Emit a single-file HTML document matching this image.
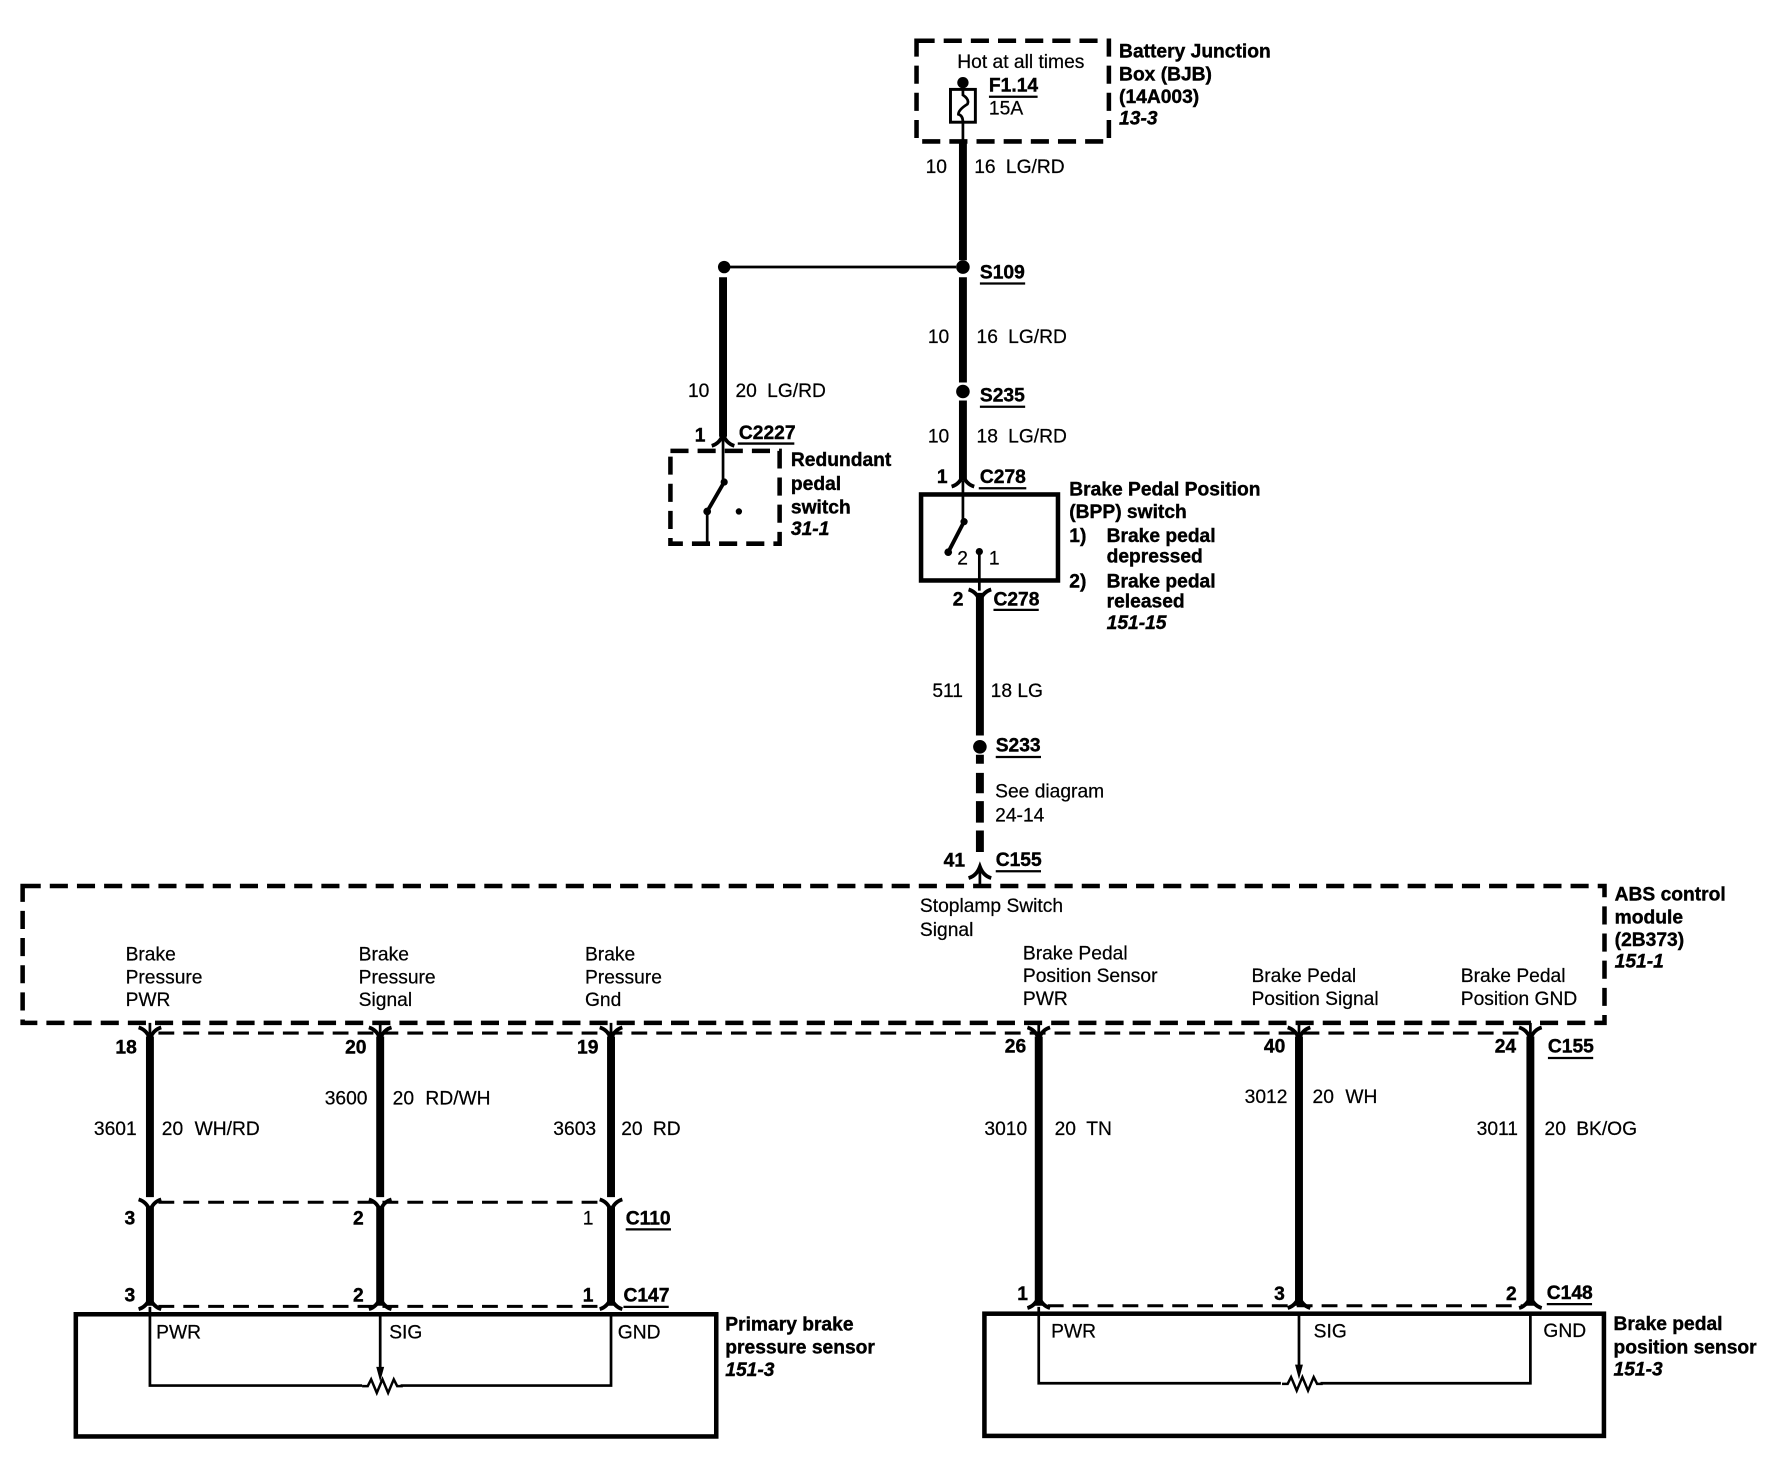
<!DOCTYPE html>
<html><head><meta charset="utf-8"><style>
html,body{margin:0;padding:0;background:#fff}
svg{display:block}
text{font-family:"Liberation Sans",sans-serif;font-size:17px;fill:#000;stroke:#000;stroke-width:.2}
.b{font-weight:700;stroke-width:.35}
.i{font-weight:700;font-style:italic;stroke-width:.35}
.w{stroke:#000;fill:none;stroke-width:7}
.t{stroke:#000;fill:none;stroke-width:2.4}
.d{stroke:#000;fill:none;stroke-width:4;stroke-dasharray:16 8}
.l{stroke:#000;fill:none;stroke-width:2.7;stroke-dasharray:14 8}
.c{stroke:#000;fill:none;stroke-width:3.4}
.u{stroke:#000;stroke-width:2}
</style></head><body>
<svg xmlns="http://www.w3.org/2000/svg" width="1774" height="1472" viewBox="0 0 1567.8 1300.9">
<defs>
<path id="up" d="M-10 5Q-3 3 0 -5Q3 3 10 5" stroke="#000" stroke-width="3.4" fill="none"/>
<path id="dn" d="M-10 -5Q-3 -3 0 5Q3 -3 10 -5" stroke="#000" stroke-width="3.4" fill="none"/>
<path id="res" d="M-17 0H-12L-9 -6L-4 6L1 -6L6 6L11 -6L14 0H19" stroke="#000" stroke-width="2.2" fill="none"/>
</defs>
<rect width="1568" height="1301" fill="#fff"/>

<!-- BJB -->
<rect class="d" x="810" y="36" width="170" height="89"/>
<circle cx="851" cy="73" r="5"/>
<rect x="840" y="79" width="22" height="29" fill="none" stroke="#000" stroke-width="2.6"/>
<path class="t" d="M851 78V84Q857 88 855 92Q847 97 847 101Q851 102 851 108V125"/>
<text x="846" y="60">Hot at all times</text>
<text class="b" x="874" y="81">F1.14</text><line class="u" x1="874" x2="917" y1="85.5" y2="85.5"/>
<text x="874" y="101">15A</text>
<text class="b" x="989" y="51">Battery Junction</text>
<text class="b" x="989" y="71">Box (BJB)</text>
<text class="b" x="989" y="91">(14A003)</text>
<text class="i" x="989" y="110">13-3</text>

<!-- main wire top -->
<path class="w" d="M851 125V230M851 245V338M851 354V425"/>
<circle cx="851" cy="236" r="6"/><circle cx="851" cy="346" r="6"/>
<text x="818" y="153">10</text><text x="861" y="153">16</text><text x="889" y="153">LG/RD</text>
<text class="b" x="866" y="246">S109</text><line class="u" x1="866" x2="906" y1="250.5" y2="250.5"/>
<text x="820" y="303">10</text><text x="863" y="303">16</text><text x="891" y="303">LG/RD</text>
<text class="b" x="866" y="355">S235</text><line class="u" x1="866" x2="906" y1="359.5" y2="359.5"/>
<text x="820" y="391">10</text><text x="863" y="391">18</text><text x="891" y="391">LG/RD</text>

<!-- branch -->
<path class="t" d="M645 236H845"/>
<circle cx="640" cy="236" r="5.500"/>
<path class="w" d="M639 245V386"/>
<text x="608" y="351">10</text><text x="650" y="351">20</text><text x="678" y="351">LG/RD</text>
<text class="b" x="614" y="390">1</text>
<use href="#up" x="639" y="389"/>
<text class="b" x="653" y="388">C2227</text><line class="u" x1="652" x2="702" y1="392" y2="392"/>
<rect class="d" x="592.500" y="398.500" width="96.500" height="82"/>
<path class="t" d="M639 386V426"/><path class="c" d="M640 426L625 452"/><path class="t" d="M625 452V480"/>
<circle cx="640" cy="426" r="3.200"/><circle cx="625" cy="452" r="3.400"/><circle cx="653" cy="452" r="2.800"/>
<text class="b" x="699" y="412">Redundant</text>
<text class="b" x="699" y="433">pedal</text>
<text class="b" x="699" y="454">switch</text>
<text class="i" x="699" y="473">31-1</text>

<!-- BPP -->
<text class="b" x="828" y="427">1</text>
<use href="#up" x="851" y="425"/>
<text class="b" x="866" y="427">C278</text><line class="u" x1="865" x2="907" y1="431.500" y2="431.500"/>
<rect x="814" y="437" width="121" height="76" fill="none" stroke="#000" stroke-width="4"/>
<path class="t" d="M851 425V461"/><path class="c" d="M852 461L838 488"/>
<circle cx="852" cy="461" r="3.200"/><circle cx="838" cy="488" r="3.400"/><circle cx="865.500" cy="487.500" r="3.200"/>
<path class="t" d="M865.500 487V522"/>
<text x="846" y="499">2</text><text x="874" y="499">1</text>
<text class="b" x="945" y="438">Brake Pedal Position</text>
<text class="b" x="945" y="458">(BPP) switch</text>
<text class="b" x="945" y="479">1)</text><text class="b" x="978" y="479">Brake pedal</text>
<text class="b" x="978" y="497">depressed</text>
<text class="b" x="945" y="519">2)</text><text class="b" x="978" y="519">Brake pedal</text>
<text class="b" x="978" y="537">released</text>
<text class="i" x="978" y="556">151-15</text>
<use href="#dn" x="866" y="526"/>
<text class="b" x="842" y="535">2</text>
<text class="b" x="878" y="535">C278</text><line class="u" x1="878" x2="918" y1="539" y2="539"/>
<path class="w" d="M866 524V650"/>
<text x="824" y="616">511</text><text x="875.500" y="616">18 LG</text>
<circle cx="866" cy="660" r="6"/>
<text class="b" x="880" y="664">S233</text><line class="u" x1="880" x2="920" y1="669" y2="669"/>
<path class="w" d="M866 667V675M866 683V701M866 708V727M866 734V753"/>
<text x="879.500" y="705">See diagram</text><text x="879.500" y="726">24-14</text>
<text class="b" x="834" y="766">41</text>
<text class="b" x="880" y="765.500">C155</text><line class="u" x1="880" x2="920" y1="770" y2="770"/>
<use href="#up" x="866" y="771"/>
<path class="t" d="M866 766V783"/>

<!-- ABS -->
<rect class="d" x="20" y="783" width="1398" height="121"/>
<text x="813" y="806">Stoplamp Switch</text><text x="813" y="827">Signal</text>
<text x="111" y="849">Brake</text><text x="111" y="869">Pressure</text><text x="111" y="889">PWR</text>
<text x="317" y="849">Brake</text><text x="317" y="869">Pressure</text><text x="317" y="889">Signal</text>
<text x="517" y="849">Brake</text><text x="517" y="869">Pressure</text><text x="517" y="889">Gnd</text>
<text x="904" y="848">Brake Pedal</text><text x="904" y="868">Position Sensor</text><text x="904" y="888">PWR</text>
<text x="1106" y="868">Brake Pedal</text><text x="1106" y="888">Position Signal</text>
<text x="1291" y="868">Brake Pedal</text><text x="1291" y="888">Position GND</text>
<text class="b" x="1427" y="796">ABS control</text>
<text class="b" x="1427" y="816">module</text>
<text class="b" x="1427" y="836">(2B373)</text>
<text class="i" x="1427" y="855">151-1</text>

<!-- connector dashes -->
<path class="l" d="M140 913H1345"/>
<path class="l" d="M140 1062.500H532M140 1154.500H532M926 1154H1345"/>

<!-- vertical wires -->
<path class="t" d="M132.500 904V914M336 904V914M540 904V914M918 904V914M1148 904V914M1352.500 904V914"/>
<path class="w" stroke-width="8" d="M132.500 916V1058M336 916V1058"/>
<path class="w" d="M540 916V1058M918 916V1154M1148 916V1154M1352.500 916V1154M132.500 1066V1154M336 1066V1154M540 1066V1154"/>
<g>
<use href="#dn" x="132.500" y="913"/><use href="#dn" x="336" y="913"/><use href="#dn" x="540" y="913"/>
<use href="#dn" x="918" y="913"/><use href="#dn" x="1148" y="913"/><use href="#dn" x="1352.500" y="913"/>
<use href="#dn" x="132.500" y="1065"/><use href="#dn" x="336" y="1065"/><use href="#dn" x="540" y="1065"/>
<use href="#up" x="132.500" y="1152"/><use href="#up" x="336" y="1152"/><use href="#up" x="540" y="1152"/>
<use href="#up" x="918" y="1151"/><use href="#up" x="1148" y="1151"/><use href="#up" x="1352.500" y="1151"/>
</g>
<text class="b" x="102" y="931">18</text><text class="b" x="305" y="931">20</text><text class="b" x="510" y="931">19</text>
<text class="b" x="888" y="930">26</text><text class="b" x="1117" y="930">40</text><text class="b" x="1321" y="930">24</text>
<text class="b" x="1368" y="930">C155</text><line class="u" x1="1368" x2="1408" y1="935" y2="935"/>
<text x="83" y="1003">3601</text><text x="143" y="1003">20</text><text x="172" y="1003">WH/RD</text>
<text x="287" y="976">3600</text><text x="347" y="976">20</text><text x="376" y="976">RD/WH</text>
<text x="489" y="1003">3603</text><text x="549" y="1003">20</text><text x="577" y="1003">RD</text>
<text x="870" y="1003">3010</text><text x="932" y="1003">20</text><text x="960" y="1003">TN</text>
<text x="1100" y="975">3012</text><text x="1160" y="975">20</text><text x="1189" y="975">WH</text>
<text x="1305" y="1003">3011</text><text x="1365" y="1003">20</text><text x="1393" y="1003">BK/OG</text>
<text class="b" x="110" y="1082">3</text><text class="b" x="312" y="1082">2</text><text x="515" y="1082">1</text>
<text class="b" x="553" y="1082">C110</text><line class="u" x1="553" x2="593" y1="1086.500" y2="1086.500"/>
<text class="b" x="110" y="1150">3</text><text class="b" x="312" y="1150">2</text><text class="b" x="515" y="1150">1</text>
<text class="b" x="551" y="1150">C147</text><line class="u" x1="551" x2="591" y1="1155" y2="1155"/>
<text class="b" x="899" y="1149">1</text><text class="b" x="1126" y="1149">3</text><text class="b" x="1331" y="1149">2</text>
<text class="b" x="1367" y="1148">C148</text><line class="u" x1="1367" x2="1407" y1="1152.500" y2="1152.500"/>

<!-- sensors -->
<rect x="67" y="1161.500" width="566" height="108" fill="none" stroke="#000" stroke-width="4"/>
<rect x="870" y="1161" width="547.500" height="108" fill="none" stroke="#000" stroke-width="4"/>
<path class="t" d="M132.500 1155V1224.500H320M354 1224.500H540V1162"/>
<path class="t" d="M336 1162V1210"/><path d="M332.500 1208H339.500L336 1221Z"/>
<use href="#res" x="337" y="1225"/>
<path class="t" d="M918 1155V1222.500H1132M1167 1222.500H1352.500V1162"/>
<path class="t" d="M1148 1162V1208"/><path d="M1144.500 1206H1151.500L1148 1219Z"/>
<use href="#res" x="1150" y="1223"/>
<text x="138" y="1183">PWR</text><text x="344" y="1183">SIG</text><text x="546" y="1183">GND</text>
<text x="929" y="1182">PWR</text><text x="1161" y="1182">SIG</text><text x="1364" y="1181.500">GND</text>
<text class="b" x="641" y="1176">Primary brake</text>
<text class="b" x="641" y="1196">pressure sensor</text>
<text class="i" x="641" y="1216">151-3</text>
<text class="b" x="1426" y="1175.500">Brake pedal</text>
<text class="b" x="1426" y="1196">position sensor</text>
<text class="i" x="1426" y="1215.500">151-3</text>
</svg>
</body></html>
